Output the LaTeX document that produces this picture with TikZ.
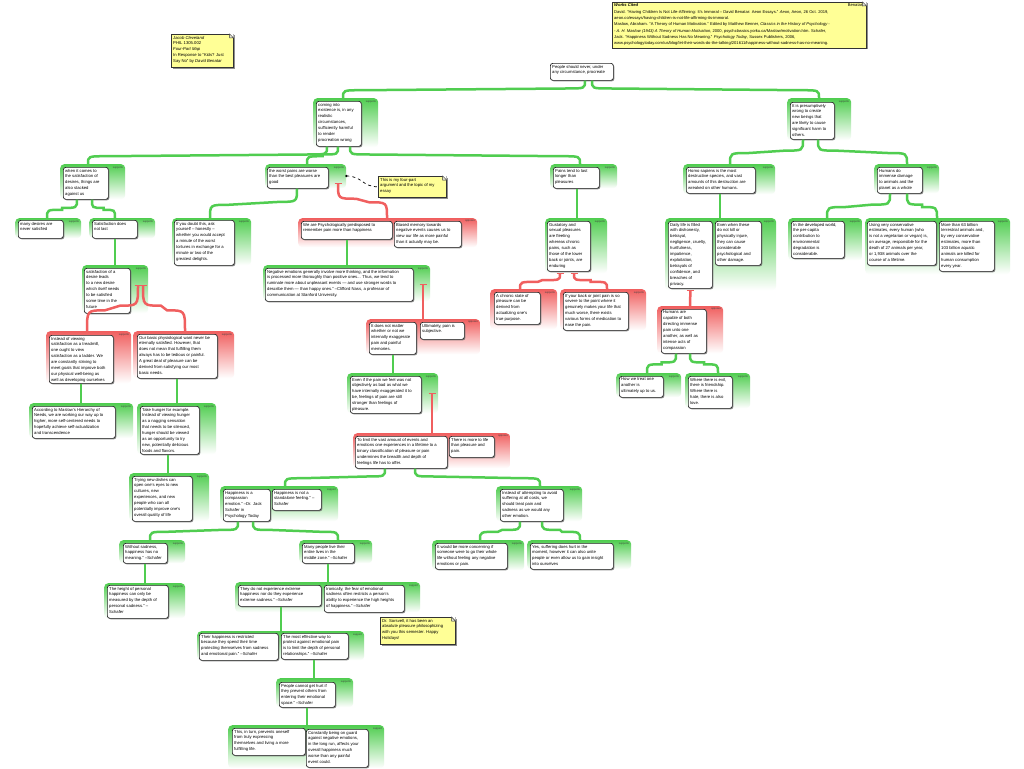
\documentclass[tikz,border=0pt]{standalone}
\usepackage{fontspec}
\setmainfont{Liberation Sans}
\usetikzlibrary{calc,shadows,arrows.meta}
\definecolor{gr}{RGB}{80,205,80}
\definecolor{rd}{RGB}{240,95,95}
\definecolor{ny}{RGB}{255,255,150}
\tikzset{
  ctr/.style={anchor=north west, inner sep=0pt, rounded corners=4pt, top color=#1, bottom color=white, middle color=#1!50},
  lab/.style={anchor=north east, inner sep=0.3pt, font=\fontsize{2.6}{3}\selectfont, text=black!75},
  cbox/.style={anchor=north west, draw=black!85, fill=white, line width=0.7pt, rounded corners=2.5pt, inner sep=0pt,
     drop shadow={shadow xshift=1pt, shadow yshift=-1pt, fill=black!55, opacity=0.8}},
  txt/.style={anchor=north west, align=left, inner xsep=2pt, inner ysep=1.8pt, font=\fontsize{4.2}{5.9}\selectfont},
  notebox/.style={anchor=north west, fill=ny, draw=black!80, line width=0.6pt, inner sep=0pt,
     drop shadow={shadow xshift=1.2pt, shadow yshift=-1.2pt, fill=black!55, opacity=0.8}},
  gedge/.style={draw=gr, line width=2.5pt},
  redge/.style={draw=rd, line width=2.5pt, -{Bar[width=7pt,line width=1.4pt]}},
}
\newcommand\Ctr[7]{\node[ctr=#6, minimum width=#4pt, minimum height=#5pt] (#1) at (#2,#3) {};
  \node[lab] at ([xshift=-2pt,yshift=-2pt]#1.north east) {#7};}
\newcommand\Bx[6]{\node[cbox, minimum width=#4pt, minimum height=#5pt] (#1) at (#2,#3) {};
  \node[txt] (#1t) at (#1.north west) {#6};}
\newcommand\Lk[3]{\draw[#1] let \p1=(#2), \p2=(#3), \n1={0.45*(\y1-\y2)}, \n2={min(abs(\x2-\x1)/2,18)}, \n3={(\x2>\x1)?1:-1} in
  (\p1) .. controls (\x1,{\y1-\n1*1pt}) .. ({\x1+\n3*\n2*1pt},{\y1-\n1*1pt}) -- ({\x2-\n3*\n2*1pt},{\y2+\n1*1pt}) .. controls (\x2,{\y2+\n1*1pt}) .. (\p2);}
\newcommand\Fold[1]{\fill[white] (#1.north east) -- ++(-4,0) -- ++(4,4) -- cycle;
  \filldraw[fill=ny!60!black!25, draw=black!80, line width=0.5pt] ($(#1.north east)+(-4,0)$) -- ++(0,4) -- ++(4,0) -- cycle;}
\begin{document}
\begin{tikzpicture}[x=1pt,y=-1pt]
\fill[white] (0,0) rectangle (1024,768);
\useasboundingbox (0,0) rectangle (1024,768);

% ---------- containers ----------
\Ctr{cA}{313}{98}{65}{49}{gr}{supports}
\Ctr{cB}{787}{98}{64}{42}{gr}{supports}
\Ctr{cA1}{60}{164}{65}{35}{gr}{supports}
\Ctr{cA2}{265}{164}{81}{24}{gr}{supports}
\Ctr{cA3}{550}{164}{67}{24}{gr}{supports}
\Ctr{cA1a}{15}{218}{66}{20}{gr}{supports}
\Ctr{cA1b}{89}{218}{66}{20}{gr}{supports}
\Ctr{cS}{82}{265}{66}{48}{gr}{supports}
\Ctr{cR1}{46}{331}{85}{52}{rd}{supports}
\Ctr{cR2}{133}{331}{101}{47}{rd}{supports}
\Ctr{cM}{29}{403}{104}{35}{gr}{supports}
\Ctr{cH}{137}{403}{79}{51}{gr}{supports}
\Ctr{cT}{129}{473}{80}{48}{gr}{supports}
\Ctr{cD}{172}{218}{79}{47}{gr}{supports}
\Ctr{cP}{298}{218}{179}{29}{rd}{opposes}
\Ctr{cN}{263}{265}{167}{36}{gr}{supports}
\Ctr{cQ}{366}{319}{114}{35}{rd}{opposes}
\Ctr{cE}{347}{373}{91}{40}{gr}{supports}
\Ctr{cL}{353}{433}{157}{35}{rd}{opposes}
\Ctr{cG1}{220}{486}{118}{35}{gr}{support}
\Ctr{cG2}{496}{486}{86}{35}{gr}{supports}
\Ctr{cW}{119}{540}{66}{23}{gr}{supports}
\Ctr{cMP}{299}{540}{73}{23}{gr}{supports}
\Ctr{cHt}{104}{583}{81}{35}{gr}{supports}
\Ctr{cX}{235}{582}{185}{30}{gr}{support}
\Ctr{cY}{197}{631}{167}{29}{gr}{support}
\Ctr{cPC}{276}{678}{77}{29}{gr}{supports}
\Ctr{cZ}{228}{725}{156}{43}{gr}{support}
\Ctr{cI}{432}{540}{92}{30}{gr}{supports}
\Ctr{cYes}{527}{540}{104}{29}{gr}{supports}
\Ctr{cGu}{545}{218}{62}{55}{gr}{supports}
\Ctr{cCh}{490}{289}{67}{40}{rd}{supports}
\Ctr{cBk}{560}{289}{86}{41}{rd}{supports}
\Ctr{cB1}{683}{164}{92}{30}{gr}{supports}
\Ctr{cB2}{874}{164}{65}{29}{gr}{supports}
\Ctr{cDL}{665}{218}{111}{72}{gr}{supports}
\Ctr{cHu}{657}{306}{66}{47}{rd}{opposes}
\Ctr{cHw}{616}{373}{65}{24}{gr}{supports}
\Ctr{cWh}{685}{373}{65}{35}{gr}{supports}
\Ctr{cDev}{788}{218}{74}{42}{gr}{supports}
\Ctr{cU}{865}{218}{145}{56}{gr}{supports}

% ---------- boxes ----------
\Bx{R}{550}{63}{63}{17}{People should never, under\\any circumstance, procreate}
\Bx{A}{316}{101}{45}{45}{coming into\\existence is, in any\\realistic\\circumstances,\\sufficiently harmful\\to render\\procreation wrong}
\Bx{B}{790}{102}{44}{37}{It is presumptively\\wrong to create\\new beings that\\are likely to cause\\significant harm to\\others.}
\Bx{A1}{63}{167}{45}{32}{when it comes to\\the satisfaction of\\desires, things are\\also stacked\\against us}
\Bx{A2}{267}{167}{61}{21}{the worst pains are worse\\than the best pleasures are\\good}
\Bx{A3}{553}{167}{46}{21}{Pains tend to last\\longer than\\pleasures}
\Bx{A1a}{18}{220}{45}{18}{many desires are\\never satisfied}
\Bx{A1b}{92}{220}{45}{18}{Satisfaction does\\not last}
\Bx{S}{84}{268}{46}{45}{satisfaction of a\\desire leads\\to a new desire\\which itself needs\\to be satisfied\\some time in the\\future}
\Bx{R1}{49}{335}{64}{48}{Instead of viewing\\satisfaction as a treadmill,\\one ought to view\\satisfaction as a ladder. We\\are constantly striving to\\meet goals that improve both\\our physical well-being as\\well as developing ourselves}
\Bx{R2}{137}{334}{80}{44}{Our basic physiological want never be\\eternally satisfied. However, that\\does not mean that fulfilling them\\always has to be tedious or painful.\\A great deal of pleasure can be\\derived from satisfying our most\\basic needs.}
\Bx{M}{32}{406}{83}{32}{According to Maslow's Hierarchy of\\Needs, we are working our way up to\\higher, more self-centered needs to\\hopefully achieve self-actualization\\and transcendence}
\Bx{H}{140}{406}{59}{48}{Take hunger for example.\\Instead of viewing hunger\\as a nagging sensation\\that needs to be silenced,\\hunger should be viewed\\as an opportunity to try\\new, potentially delicious\\foods and flavors.}
\Bx{T}{132}{476}{60}{45}{Trying new dishes can\\open one's eyes to new\\cultures, new\\experiences, and new\\people who can all\\potentially improve one's\\overall quality of life}
\Bx{D}{174}{220}{60}{45}{If you doubt this, ask\\yourself -- honestly --\\whether you would accept\\a minute of the worst\\tortures in exchange for a\\minute or two of the\\greatest delights.}
\Bx{P1}{301}{221}{91}{18}{We are Psychologically predisposed to\\remember pain more than happiness}
\Bx{P2}{394}{221}{67}{26}{Biased memory towards\\negative events causes us to\\view our life as more painful\\than it actually may be.}
\Bx{N}{265}{268}{148}{33}{Negative emotions generally involve more thinking, and the information\\is processed more thoroughly than positive ones... Thus, we tend to\\ruminate more about unpleasant events --- and use stronger words to\\describe them --- than happy ones." --Clifford Nass, a professor of\\communication at Stanford University.}
\Bx{Q1}{369}{322}{47}{32}{It does not matter\\whether or not we\\internally exaggerate\\pain and painful\\memories.}
\Bx{Q2}{420}{322}{44}{17}{Ultimately, pain is\\subjective.}
\Bx{E}{350}{376}{71}{37}{Even if the pain we feel was not\\objectively as bad as what we\\have internally exaggerated it to\\be, feelings of pain are still\\stronger than feelings of\\pleasure.}
\Bx{L1}{355}{436}{92}{32}{To limit the vast amount of events and\\emotions one experiences in a lifetime to a\\binary classification of pleasure or pain\\undermines the breadth and depth of\\feelings life has to offer.}
\Bx{L2}{449}{436}{45}{21}{There is more to life\\than pleasure and\\pain.}
\Bx{G1a}{223}{489}{47}{32}{Happiness is a\\compassion\\emotion." --Dr. Jack\\Schafer in\\Psychology Today}
\Bx{G1b}{272}{489}{49}{21}{Happiness is not a\\standalone feeling." --\\Schafer}
\Bx{G2}{500}{489}{63}{32}{Instead of attempting to avoid\\suffering at all costs, we\\should treat pain and\\sadness as we would any\\other emotion.}
\Bx{W}{123}{543}{44}{20}{Without sadness,\\happiness has no\\meaning." --Schafer}
\Bx{MP}{302}{543}{52}{20}{Many people live their\\entire lives in the\\middle zone." --Schafer}
\Bx{Ht}{107}{585}{61}{33}{The height of personal\\happiness can only be\\measured by the depth of\\personal sadness." --\\Schafer}
\Bx{X1}{238}{585}{83}{21}{They do not experience extreme\\happiness nor do they experience\\extreme sadness." --Schafer}
\Bx{X2}{324}{585}{80}{27}{Ironically, the fear of emotional\\sadness often restricts a person's\\ability to experience the high heights\\of happiness." --Schafer}
\Bx{Y1}{199}{633}{79}{27}{Their happiness is restricted\\because they spend their time\\protecting themselves from sadness\\and emotional pain." --Schafer}
\Bx{Y2}{281}{633}{67}{26}{The most effective way to\\protect against emotional pain\\is to limit the depth of personal\\relationships." --Schafer}
\Bx{PC}{279}{682}{56}{25}{People cannot get hurt if\\they prevent others from\\entering their emotional\\space." --Schafer}
\Bx{Z1}{232}{728}{73}{27}{This, in turn, prevents oneself\\from truly expressing\\themselves and living a more\\fulfilling life.}
\Bx{Z2}{306}{729}{62}{38}{Constantly being on guard\\against negative emotions,\\in the long run, affects your\\overall happiness much\\worse than any painful\\event could.}
\Bx{I}{435}{543}{72}{26}{It would be more concerning if\\someone were to go their whole\\life without feeling any negative\\emotions or pain.}
\Bx{Yes}{530}{543}{83}{26}{Yes, suffering does hurt in the\\moment, however it can also unite\\people or even allow us to gain insight\\into ourselves}
\Bx{Gu}{547}{221}{43}{50}{Gustatory and\\sexual pleasures\\are fleeting\\whereas chronic\\pains, such as\\those of the lower\\back or joints, are\\enduring}
\Bx{Ch}{494}{292}{46}{32}{A chronic state of\\pleasure can be\\derived from\\actualizing one's\\true purpose.}
\Bx{Bk}{563}{292}{65}{38}{If your back or joint pain is so\\severe to the point where it\\genuinely makes your life that\\much worse, there exists\\various forms of medication to\\ease the pain.}
\Bx{B1}{686}{167}{69}{26}{Homo sapiens is the most\\destructive species, and vast\\amounts of this destruction are\\wreaked on other humans.}
\Bx{B2}{877}{167}{45}{26}{Humans do\\immense damage\\to animals and the\\planet as a whole}
\Bx{DL1}{668}{221}{44}{67}{Daily life is filled\\with dishonesty,\\betrayal,\\negligence, cruelty,\\hurtfulness,\\impatience,\\exploitation,\\betrayals of\\confidence, and\\breaches of\\privacy.}
\Bx{DL2}{715}{221}{46}{44}{Even when these\\do not kill or\\physically injure,\\they can cause\\considerable\\psychological and\\other damage.}
\Bx{Hu}{661}{309}{45}{44}{Humans are\\capable of both\\directing immense\\pain unto one\\another, as well as\\intense acts of\\compassion}
\Bx{Hw}{619}{376}{44}{21}{How we treat one\\another is\\ultimately up to us.}
\Bx{Wh}{688}{376}{44}{32}{Where there is evil,\\there is friendship.\\Where there is\\hate, there is also\\love.}
\Bx{Dev}{791}{221}{53}{37}{In the developed world,\\the per-capita\\contribution to\\environmental\\degradation is\\considerable.}
\Bx{U1}{867}{221}{69}{44}{Using very conservative\\estimates, every human (who\\is not a vegetarian or vegan) is,\\on average, responsible for the\\death of 27 animals per year,\\or 1,938 animals over the\\course of a lifetime.}
\Bx{U2}{939}{221}{55}{50}{More than 63 billion\\terrestrial animals and,\\by very conservative\\estimates, more than\\103 billion aquatic\\animals are killed for\\human consumption\\every year.}

% ---------- connectors ----------
\Lk{gedge}{$(R.south west)+(35,0)$}{$(cA.north west)+(30,0)$}
\Lk{gedge}{$(R.south west)+(42,0)$}{$(cB.north west)+(32,0)$}
\Lk{gedge}{$(A.south west)+(11,0)$}{$(cA1.north west)+(28,0)$}
\Lk{gedge}{$(A.south west)+(22,0)$}{$(cA2.north west)+(42,0)$}
\Lk{gedge}{$(A.south west)+(34,0)$}{$(cA3.north west)+(30,0)$}
\Lk{gedge}{$(A1.south west)+(14,0)$}{$(cA1a.north west)+(32,0)$}
\Lk{gedge}{$(A1.south west)+(29,0)$}{$(cA1b.north west)+(26,0)$}
\Lk{gedge}{$(A1b.south west)+(23,0)$}{$(cS.north west)+(33,0)$}
\Lk{redge}{$(cR1.north west)+(41,0)$}{$(cS.north west)+(56,20)$}
\Lk{redge}{$(cR2.north west)+(52,0)$}{$(cS.north west)+(61,20)$}
\Lk{gedge}{$(R1.south west)+(32,0)$}{$(cM.north west)+(52,0)$}
\Lk{gedge}{$(R2.south west)+(40,0)$}{$(cH.north west)+(40,0)$}
\Lk{gedge}{$(H.south west)+(28,0)$}{$(cT.north west)+(39,0)$}
\Lk{gedge}{$(A2.south west)+(30,0)$}{$(cD.north west)+(38,0)$}
\Lk{redge}{$(cP.north west)+(89,0)$}{$(cA2.north west)+(73,19)$}
\Lk{gedge}{$(P1.south west)+(46,0)$}{$(cN.north west)+(84,0)$}
\Lk{redge}{$(cQ.north west)+(57,0)$}{$(cN.north west)+(160,19)$}
\Lk{gedge}{$(Q1.south west)+(24,0)$}{$(cE.north west)+(46,0)$}
\Lk{redge}{$(cL.north west)+(79,0)$}{$(cE.north west)+(85,20)$}
\Lk{gedge}{$(L1.south west)+(30,0)$}{$(cG1.north west)+(65,0)$}
\Lk{gedge}{$(L1.south west)+(60,0)$}{$(cG2.north west)+(44,0)$}
\Lk{gedge}{$(G1a.south west)+(15,0)$}{$(cW.north west)+(31,0)$}
\Lk{gedge}{$(G1a.south west)+(30,0)$}{$(cMP.north west)+(39,0)$}
\Lk{gedge}{$(W.south west)+(22,0)$}{$(cHt.north west)+(41,0)$}
\Lk{gedge}{$(MP.south west)+(26,0)$}{$(cX.north west)+(93,0)$}
\Lk{gedge}{$(X1.south west)+(43,0)$}{$(cY.north west)+(84,0)$}
\Lk{gedge}{$(Y2.south west)+(33,0)$}{$(cPC.north west)+(38,0)$}
\Lk{gedge}{$(PC.south west)+(28,0)$}{$(cZ.north west)+(79,0)$}
\Lk{gedge}{$(G2.south west)+(20,0)$}{$(cI.north west)+(48,0)$}
\Lk{gedge}{$(G2.south west)+(42,0)$}{$(cYes.north west)+(53,0)$}
\Lk{gedge}{$(A3.south west)+(24,0)$}{$(cGu.north west)+(32,0)$}
\Lk{redge}{$(cCh.north west)+(30,0)$}{$(cGu.north west)+(15,55)$}
\Lk{redge}{$(cBk.north west)+(47,0)$}{$(cGu.north west)+(29,55)$}
\Lk{gedge}{$(B.south west)+(13,0)$}{$(cB1.north west)+(47,0)$}
\Lk{gedge}{$(B.south west)+(28,0)$}{$(cB2.north west)+(33,0)$}
\Lk{gedge}{$(B1.south west)+(34,0)$}{$(cDL.north west)+(55,0)$}
\Lk{redge}{$(cHu.north west)+(33,0)$}{$(DL1.south)+(0,1)$}
\Lk{gedge}{$(Hu.south west)+(15,0)$}{$(cHw.north west)+(31,0)$}
\Lk{gedge}{$(Hu.south west)+(29,0)$}{$(cWh.north west)+(33,0)$}
\Lk{gedge}{$(B2.south west)+(13,0)$}{$(cDev.north west)+(39,0)$}
\Lk{gedge}{$(B2.south west)+(30,0)$}{$(cU.north west)+(72,0)$}

% ---------- notes ----------
\node[notebox, minimum width=62pt, minimum height=33pt] (n1) at (171,34) {};
\node[txt] at (n1.north west) {\textit{Jacob Cleveland}\\PHIL 1305.002\\\textit{Four-Part Map}\\In Response to ``Kids? Just\\Say No'' by \textit{David Benatar}};
\Fold{n1}
\node[notebox, minimum width=254pt, minimum height=46pt] (n2) at (612,2) {};
\node[txt, font=\fontsize{4.1}{6.3}\selectfont] at (n2.north west) {\makebox[249pt][l]{\textbf{\textit{Works Cited}}\hfill Benatar,}\\
David. ``Having Children Is Not Life-Affirming: It's Immoral -- David Benatar: Aeon Essays.'' \textit{Aeon}, Aeon, 26 Oct. 2019,\\
aeon.co/essays/having-children-is-not-life-affirming-its-immoral.\\
Maslow, Abraham. ``A Theory of Human Motivation.'' Edited by Matthew Benner, \textit{Classics in the History of Psychology -}\\
\textit{- A. H. Maslow (1943) A Theory of Human Motivation}, 2000, psychclassics.yorku.ca/Maslow/motivation.htm. Schafer,\\
Jack. ``Happiness Without Sadness Has No Meaning.'' \textit{Psychology Today}, Sussex Publishers, 2006,\\
www.psychologytoday.com/us/blog/let-their-words-do-the-talking/201611/happiness-without-sadness-has-no-meaning.};
\Fold{n2}
\node[notebox, minimum width=68pt, minimum height=21pt] (n3) at (378,176) {};
\node[txt] at (n3.north west) {This is my four-part\\argument and the topic of my\\essay};
\Fold{n3}
\node[notebox, minimum width=75pt, minimum height=27pt] (n4) at (380,617) {};
\node[txt] at (n4.north west) {Dr. Sorsvell, it has been an\\absolute pleasure philosophizing\\with you this semester. Happy\\Holidays!};
\Fold{n4}
\coordinate (dot) at ($(cA2.north east)+(0,12)$);
\draw[dashed, line width=0.7pt] (dot) .. controls +(16,0) and +(-16,0) .. (n3.west);
\fill (dot) circle (1.3);
\end{tikzpicture}
\end{document}
